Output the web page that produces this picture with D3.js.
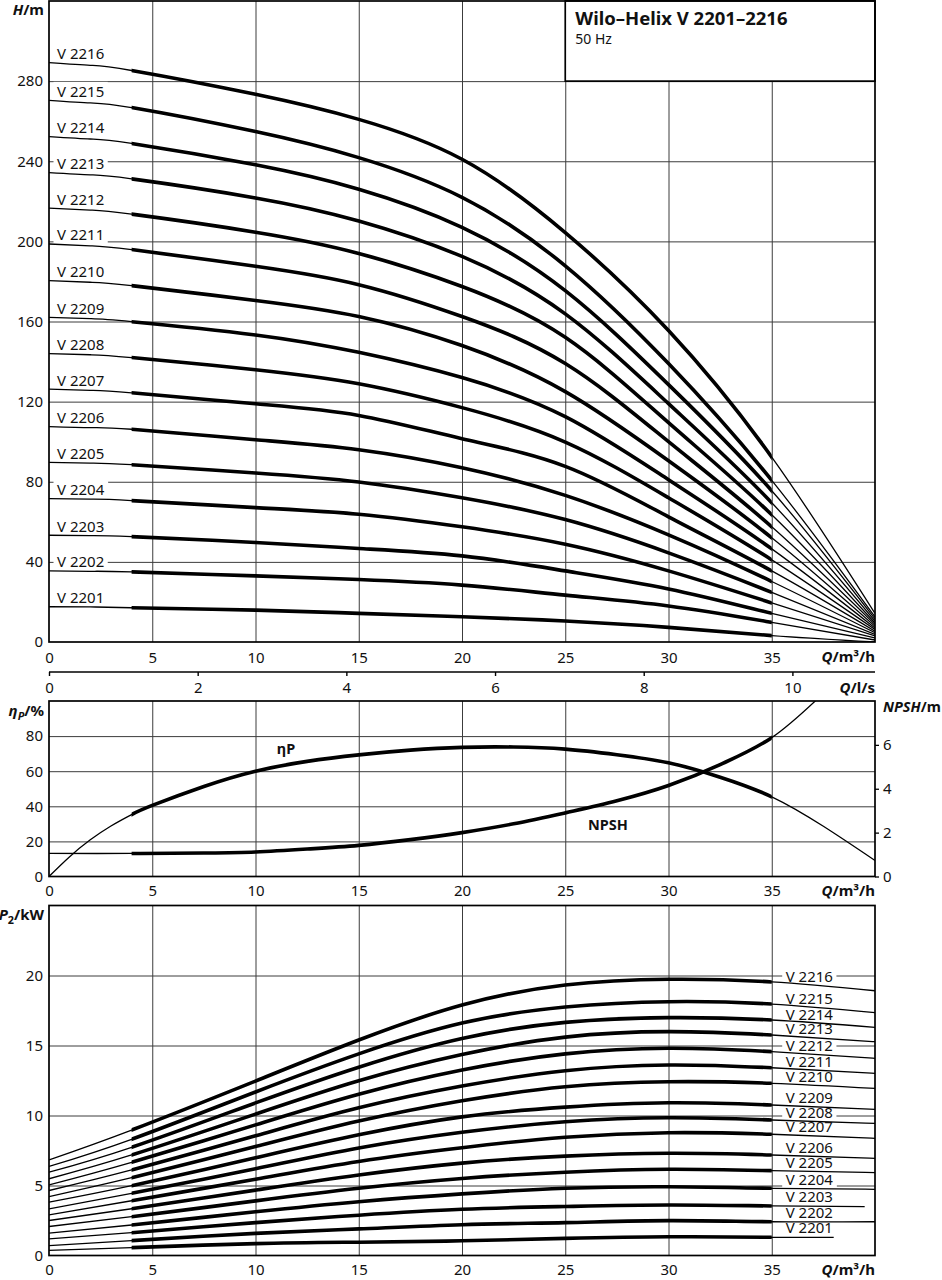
<!DOCTYPE html>
<html><head><meta charset="utf-8">
<script src="https://cdn.jsdelivr.net/npm/d3@7"></script>
<style>
body{margin:0;background:#fff}
svg text{font-family:"Noto Sans",sans-serif;fill:#111}
</style>
</head><body>
<svg id="c" width="942" height="1280"></svg>
<script>
// ---------- DATA ----------
const stageNames = ["V 2201","V 2202","V 2203","V 2204","V 2205","V 2206","V 2207","V 2208",
                    "V 2209","V 2210","V 2211","V 2212","V 2213","V 2214","V 2215","V 2216"];

// Head H/m vs Q/m3/h
const qHead = [0, 2, 4, 10, 15, 20, 25, 30, 35, 40];
const headV2201 = [17.6, 17.5, 17.1, 15.9, 14.3, 12.6, 10.5, 7.3, 3.2, 0];
const headV2202 = [35.5, 35.3, 35.0, 33.0, 31.2, 28.4, 23.4, 18.0, 9.8, 1.0];
const headV2203 = [53.3, 53.1, 52.6, 49.7, 46.7, 43.0, 35.5, 26.5, 14.3, 2.0];
const headV2204 = [71.6, 71.3, 70.6, 67.1, 63.8, 57.5, 48.8, 35.5, 19.5, 3.0];
const headV2205 = [89.7, 89.3, 88.5, 84.4, 79.9, 72.0, 61.1, 44.5, 24.8, 3.8];
const headV2206 = [107.5, 107.0, 106.2, 101.0, 96.0, 87.0, 73.2, 53.5, 30.2, 4.6];
const headV2207 = [126.2, 125.6, 124.4, 118.9, 113.1, 101.5, 87.7, 62.5, 35.5, 5.4];
const headV2208 = [144.0, 143.4, 142.0, 135.9, 128.9, 117.0, 99.8, 72.0, 41.0, 6.2];
const headV2209 = [162.1, 161.4, 159.9, 153.3, 144.6, 132.0, 112.5, 81.0, 46.5, 7.0];
const headV2210 = [180.4, 179.6, 177.9, 170.5, 162.5, 148.0, 125.0, 90.5, 52.0, 7.8];
const headV2211 = [198.7, 197.8, 195.9, 187.6, 178.4, 162.5, 139.0, 100.0, 57.5, 8.7];
const headV2212 = [216.6, 215.6, 213.6, 204.6, 194.0, 177.5, 152.1, 109.5, 63.5, 9.5];
const headV2213 = [234.3, 233.2, 231.2, 221.7, 210.2, 192.5, 163.8, 119.0, 69.5, 10.5];
const headV2214 = [252.3, 251.1, 248.9, 238.2, 226.0, 207.0, 175.4, 128.5, 75.5, 11.5];
const headV2215 = [270.4, 269.1, 266.8, 254.8, 241.8, 222.0, 187.8, 139.0, 80.7, 12.5];
const headV2216 = [289.2, 287.9, 285.3, 273.4, 260.9, 241.0, 204.4, 155.5, 92.3, 14.3];
const headSeries = [headV2201, headV2202, headV2203, headV2204, headV2205, headV2206, headV2207, headV2208,
                    headV2209, headV2210, headV2211, headV2212, headV2213, headV2214, headV2215, headV2216];

// Efficiency and NPSH
const qEta = [0, 1, 2, 3, 4, 5, 7.5, 10, 12.5, 15, 17.5, 20, 22.5, 25, 27.5, 30, 32.5, 35, 37.5, 40];
const etaValues = [0, 11.3, 20.9, 28.8, 35.3, 40.5, 51.3, 60, 65.6, 69.3, 72.0, 73.6, 73.8, 72.6, 69.4, 64.8, 56.6, 45.4, 28.6, 9.1];
const qNpsh = [0, 4, 7.5, 10, 12.5, 15, 17.5, 20, 22.5, 25, 27.5, 30, 32.5, 35, 37.5];
const npshValues = [1.05, 1.05, 1.07, 1.12, 1.25, 1.42, 1.68, 2.0, 2.4, 2.9, 3.45, 4.15, 5.1, 6.33, 8.35];

// Power P2/kW vs Q/m3/h
const qPower = [0, 4, 10, 15, 20, 25, 30, 35, 40];
const powerEndQ = [38, 40, 39.5, 40, 40, 40, 40, 40, 40, 40, 40, 40, 40, 40, 40, 40];
const powerV2201 = [0.36, 0.56, 0.85, 0.95, 1.05, 1.22, 1.34, 1.30, 1.30];
const powerV2202 = [0.71, 1.06, 1.58, 1.90, 2.20, 2.35, 2.49, 2.41, 2.41];
const powerV2203 = [1.19, 1.63, 2.35, 2.88, 3.30, 3.50, 3.61, 3.54, 3.49];
const powerV2204 = [1.60, 2.18, 3.12, 3.84, 4.40, 4.80, 4.91, 4.80, 4.73];
const powerV2205 = [2.07, 2.77, 3.90, 4.80, 5.50, 5.95, 6.16, 6.06, 5.92];
const powerV2206 = [2.50, 3.34, 4.67, 5.75, 6.60, 7.10, 7.30, 7.18, 6.94];
const powerV2207 = [2.90, 3.91, 5.45, 6.72, 7.70, 8.45, 8.77, 8.66, 8.37];
const powerV2208 = [3.33, 4.44, 6.20, 7.68, 8.80, 9.55, 9.84, 9.68, 9.44];
const powerV2209 = [3.81, 4.99, 6.98, 8.62, 9.90, 10.60, 10.91, 10.75, 10.44];
const powerV2210 = [4.21, 5.56, 7.78, 9.60, 11.05, 12.05, 12.41, 12.30, 11.94];
const powerV2211 = [4.64, 6.11, 8.55, 10.55, 12.10, 13.20, 13.61, 13.41, 13.01];
const powerV2212 = [5.05, 6.66, 9.33, 11.52, 13.25, 14.40, 14.80, 14.56, 14.08];
const powerV2213 = [5.48, 7.18, 10.10, 12.48, 14.35, 15.60, 15.99, 15.75, 15.27];
const powerV2214 = [5.95, 7.73, 10.90, 13.45, 15.50, 16.65, 16.99, 16.82, 16.30];
const powerV2215 = [6.36, 8.30, 11.68, 14.40, 16.60, 17.75, 18.13, 17.96, 17.35];
const powerV2216 = [6.83, 8.96, 12.46, 15.39, 17.89, 19.32, 19.73, 19.54, 18.91];
const powerSeries = [powerV2201, powerV2202, powerV2203, powerV2204, powerV2205, powerV2206, powerV2207, powerV2208,
                     powerV2209, powerV2210, powerV2211, powerV2212, powerV2213, powerV2214, powerV2215, powerV2216];

// Ticks
const qTicks = [0, 5, 10, 15, 20, 25, 30, 35];
const qGrid = [5, 10, 15, 20, 25, 30, 35];
const lsTicks = [0, 2, 4, 6, 8, 10];
const headTicks = [0, 40, 80, 120, 160, 200, 240, 280];
const etaTicks = [0, 20, 40, 60, 80];
const npshTicks = [0, 2, 4, 6];
const powerTicks = [0, 5, 10, 15, 20];
const thickRange = [4, 35];
const title = "Wilo–Helix V 2201–2216";
const subtitle = "50 Hz";

// ---------- SCALES ----------
const L = 49, R = 875;
const x = d3.scaleLinear().domain([0, 40]).range([L, R]);
const xLs = d3.scaleLinear().domain([0, 40 / 3.6]).range([L, R]);
const yH = d3.scaleLinear().domain([0, 320]).range([642, 1]);
const yEta = d3.scaleLinear().domain([0, 100]).range([876.5, 701]);
const yN = d3.scaleLinear().domain([0, 8]).range([876.5, 701]);
const yP = d3.scaleLinear().domain([0, 25]).range([1255.5, 905.5]);

const svg = d3.select("#c");
const FONT = '"Noto Sans", sans-serif';
const THICK = 3.6, THIN = 1.3, GRID = "#3c3c3c";

const defs = svg.append("defs");
function clip(id, x0, y0, x1, y1) {
  defs.append("clipPath").attr("id", id).append("rect")
    .attr("x", x0).attr("y", y0).attr("width", x1 - x0).attr("height", y1 - y0);
}

function panel(id, yScale, yTicksArr) {
  const [yb, yt] = yScale.range();
  clip(id + "-plot", L, yt, R, yb);
  clip(id + "-thick", x(thickRange[0]), yt, x(thickRange[1]), yb);
  const g = svg.append("g");
  const gv = g.append("g").attr("transform", `translate(0,${yb})`)
    .call(d3.axisBottom(x).tickValues(qGrid).tickSize(-(yb - yt)).tickFormat(""));
  gv.select(".domain").remove();
  gv.selectAll("line").attr("stroke", GRID).attr("stroke-width", 1);
  const gh = g.append("g").attr("transform", `translate(${L},0)`)
    .call(d3.axisLeft(yScale).tickValues(yTicksArr.filter(v => v > 0)).tickSize(-(R - L)).tickFormat(""));
  gh.select(".domain").remove();
  gh.selectAll("line").attr("stroke", GRID).attr("stroke-width", 1);
  return {
    g,
    bg: g.append("g"),
    curves: g.append("g"),
    labels: g.append("g"),
    frame: g.append("g"),
    yb, yt, id
  };
}

function styleAxis(sel, size) {
  sel.attr("font-family", FONT).attr("font-size", size || 15);
  sel.selectAll("text").attr("fill", "#111");
  sel.select(".domain").remove();
}

function drawCurve(p, pts, yScale, curve) {
  const line = d3.line().x(d => x(d[0])).y(d => yScale(d[1])).curve(curve || d3.curveNatural);
  p.curves.append("path").attr("d", line(pts)).attr("fill", "none").attr("stroke", "#000")
    .attr("stroke-width", THIN).attr("clip-path", `url(#${p.id}-plot)`);
  p.curves.append("path").attr("d", line(pts)).attr("fill", "none").attr("stroke", "#000")
    .attr("stroke-width", THICK).attr("clip-path", `url(#${p.id}-thick)`);
}

function labelWithBg(p, xx, yy, txt) {
  const t = p.labels.append("text").attr("x", xx).attr("y", yy).attr("font-size", 15).text(txt);
  const b = t.node().getBBox();
  p.bg.append("rect").attr("x", b.x - 3.5).attr("y", b.y + 1).attr("width", b.width + 7)
    .attr("height", b.height - 2).attr("fill", "#fff");
}

function unitLabel(xx, yy, anchor, parts, size) {
  const t = svg.append("text").attr("x", xx).attr("y", yy).attr("text-anchor", anchor)
    .attr("font-size", size || 15).attr("font-weight", "bold");
  parts.forEach(pt => {
    const s = t.append("tspan").text(pt.t);
    if (pt.i) s.attr("font-style", "italic");
    if (pt.sub) s.attr("font-size", (size || 15) * 0.72).attr("dy", 4);
    if (pt.up) s.attr("dy", -4);
  });
  return t;
}

function frame(p) {
  p.frame.append("rect").attr("x", L).attr("y", p.yt).attr("width", R - L).attr("height", p.yb - p.yt)
    .attr("fill", "none").attr("stroke", "#000").attr("stroke-width", 1.7);
}

// ---------- PANEL 1 : HEAD ----------
const p1 = panel("p1", yH, headTicks);
headSeries.forEach((vals, i) => {
  drawCurve(p1, qHead.map((q, j) => [q, vals[j]]), yH);
  labelWithBg(p1, 57, yH(vals[0]) - 3.5, stageNames[i]);
});
p1.frame.append("rect").attr("x", x(25)).attr("y", 0.9).attr("width", x(40) - x(25))
  .attr("height", yH(280) - 0.9).attr("fill", "#fff").attr("stroke", "#000").attr("stroke-width", 1.7);
p1.frame.append("text").attr("x", x(25) + 10).attr("y", 25).attr("font-size", 18.5)
  .attr("font-weight", "bold").text(title);
p1.frame.append("text").attr("x", x(25) + 10).attr("y", 44).attr("font-size", 14).text(subtitle);
frame(p1);
styleAxis(svg.append("g").attr("transform", `translate(${L},0)`)
  .call(d3.axisLeft(yH).tickValues(headTicks).tickSize(0).tickPadding(6)));
styleAxis(svg.append("g").attr("transform", `translate(0,642)`)
  .call(d3.axisBottom(x).tickValues(qTicks).tickSize(0).tickPadding(10.5)));
unitLabel(44, 15, "end", [{t: "H", i: true}, {t: "/m"}]);
unitLabel(875, 662, "end", [{t: "Q", i: true}, {t: "/m³/h"}]);

// l/s axis
const gls = svg.append("g").attr("transform", "translate(0,672)")
  .call(d3.axisBottom(xLs).tickValues(lsTicks).tickSize(4).tickPadding(6.5));
gls.attr("font-family", FONT).attr("font-size", 15);
gls.selectAll("text").attr("fill", "#111");
gls.select(".domain").attr("d", `M${L},0H${R}`).attr("stroke", "#000").attr("stroke-width", 1.6);
gls.selectAll("line").attr("stroke", "#000").attr("stroke-width", 1.4);
unitLabel(875, 693, "end", [{t: "Q", i: true}, {t: "/l/s"}]);

// ---------- PANEL 2 : EFFICIENCY / NPSH ----------
const p2 = panel("p2", yEta, etaTicks);
drawCurve(p2, qEta.map((q, j) => [q, etaValues[j]]), yEta, d3.curveNatural);
drawCurve(p2, qNpsh.map((q, j) => [q, npshValues[j]]), yN, d3.curveCatmullRom.alpha(0.5));
frame(p2);
styleAxis(svg.append("g").attr("transform", `translate(${L},0)`)
  .call(d3.axisLeft(yEta).tickValues(etaTicks).tickSize(0).tickPadding(6)));
const gr = svg.append("g").attr("transform", `translate(${R},0)`)
  .call(d3.axisRight(yN).tickValues(npshTicks).tickSize(4).tickPadding(4));
styleAxis(gr);
gr.selectAll("line").attr("stroke", "#000").attr("stroke-width", 1.3);
styleAxis(svg.append("g").attr("transform", `translate(0,876.5)`)
  .call(d3.axisBottom(x).tickValues(qTicks).tickSize(0).tickPadding(9)));
unitLabel(44, 716, "end", [{t: "η", i: true}, {t: "P", i: true, sub: true}, {t: "/%", up: true}]);
unitLabel(883, 712, "start", [{t: "NPSH", i: true}, {t: "/m"}], 14.5);
unitLabel(875, 896, "end", [{t: "Q", i: true}, {t: "/m³/h"}]);
svg.append("text").attr("x", 286).attr("y", 754).attr("text-anchor", "middle")
  .attr("font-size", 14.5).attr("font-weight", "bold").text("ηP");
svg.append("text").attr("x", 608).attr("y", 830).attr("text-anchor", "middle")
  .attr("font-size", 14.5).attr("font-weight", "bold").text("NPSH");

// ---------- PANEL 3 : POWER ----------
const p3 = panel("p3", yP, powerTicks);
powerSeries.forEach((vals, i) => {
  const qs = qPower.slice();
  qs[qs.length - 1] = powerEndQ[i];
  drawCurve(p3, qs.map((q, j) => [q, vals[j]]), yP);
  const n = vals.length;
  const v = vals[n - 2] + (vals[n - 1] - vals[n - 2]) * (37.5 - 35) / (powerEndQ[i] - 35);
  labelWithBg(p3, 785.7, yP(v) - 4, stageNames[i]);
});
frame(p3);
styleAxis(svg.append("g").attr("transform", `translate(${L},0)`)
  .call(d3.axisLeft(yP).tickValues(powerTicks).tickSize(0).tickPadding(6)));
styleAxis(svg.append("g").attr("transform", `translate(0,1255.5)`)
  .call(d3.axisBottom(x).tickValues(qTicks).tickSize(0).tickPadding(9)));
unitLabel(44, 920, "end", [{t: "P", i: true}, {t: "2", sub: true}, {t: "/kW", up: true}]);
unitLabel(875, 1275, "end", [{t: "Q", i: true}, {t: "/m³/h"}]);
</script>
</body></html>
